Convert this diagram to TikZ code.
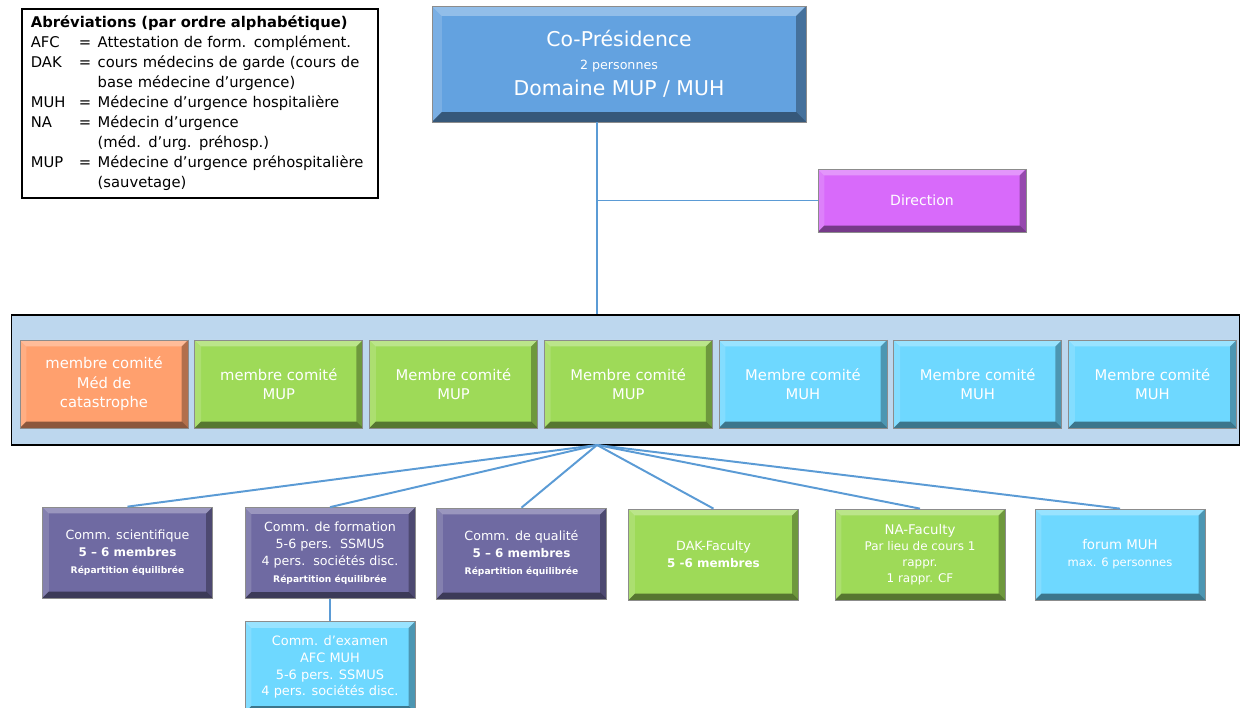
\documentclass[tikz,border=0pt]{standalone}
\usepackage{fontspec}
\setmainfont{DejaVu Sans}
\usetikzlibrary{positioning}
\definecolor{chairblue}{RGB}{99,162,224}
\definecolor{dirviolet}{RGB}{216,106,250}
\definecolor{catorange}{RGB}{255,160,110}
\definecolor{mupgreen}{RGB}{158,218,88}
\definecolor{muhcyan}{RGB}{110,216,255}
\definecolor{commpurple}{RGB}{111,106,162}
\definecolor{panelblue}{RGB}{189,215,238}
\definecolor{linkblue}{RGB}{91,155,213}

\newcommand\abbrline[2]{\makebox[1.2cm][l]{#1}\makebox[0.47cm][l]{=}\mbox{#2}}
\newcommand\abbrcont[1]{\hspace*{1.67cm}\mbox{#1}}
\newcommand\smallnote[1]{{\fontsize{6.5}{8}\selectfont\bfseries #1}}

\begin{document}
\begin{tikzpicture}[
    x=0.025cm, y=-0.025cm,
    node distance=0.15cm,
    every node/.style={align=center},
    bevel/.style={path picture={
        \path (path picture bounding box.north west) coordinate (bnw)
              (path picture bounding box.north east) coordinate (bne)
              (path picture bounding box.south west) coordinate (bsw)
              (path picture bounding box.south east) coordinate (bse);
        \fill[white,opacity=.3] (bnw) -- (bne) -- ([shift={(-#1,-#1)}]bne) -- ([shift={(#1,-#1)}]bnw) -- cycle;
        \fill[white,opacity=.15] (bnw) -- ([shift={(#1,-#1)}]bnw) -- ([shift={(#1,#1)}]bsw) -- (bsw) -- cycle;
        \fill[black,opacity=.3] (bne) -- (bse) -- ([shift={(-#1,#1)}]bse) -- ([shift={(-#1,-#1)}]bne) -- cycle;
        \fill[black,opacity=.45] (bsw) -- (bse) -- ([shift={(-#1,#1)}]bse) -- ([shift={(#1,#1)}]bsw) -- cycle;
    }},
    tile/.style={rectangle, draw=black!45, line width=.5pt, text=white, inner sep=2pt, bevel=#1},
    tile/.default=4.5pt,
    legend/.style={rectangle, draw=black, line width=1.2pt, fill=white, align=left, text width=8.45cm, minimum height=4.725cm, inner xsep=0.225cm, font=\fontsize{10.5}{14.2}\selectfont},
    chair/.style={tile=7pt, fill=chairblue, minimum width=9.35cm, minimum height=2.9cm, font=\fontsize{14.5}{13}\selectfont},
    direction/.style={tile, fill=dirviolet, minimum width=5.2cm, minimum height=1.575cm, font=\fontsize{10}{12}\selectfont},
    panel/.style={rectangle, draw=black, line width=.9pt, fill=panelblue, minimum width=30.675cm, minimum height=3.25cm},
    member/.style={tile, minimum width=4.2cm, minimum height=2.2cm, font=\fontsize{10.5}{13.8}\selectfont},
    commission/.style={tile, minimum width=4.25cm, minimum height=2.275cm, font=\fontsize{9}{12}\selectfont},
    link/.style={draw=linkblue, line width=1.4pt}
]
\useasboundingbox (0,0) rectangle (1243,708);

% Legend
\node[legend, anchor=north west] (abbr) at (21,8) {%
{\bfseries Abréviations (par ordre alphabétique)}\\
\abbrline{AFC}{Attestation de form. complément.}\\
\abbrline{DAK}{cours médecins de garde (cours de}\\
\abbrcont{base médecine d’urgence)}\\
\abbrline{MUH}{Médecine d’urgence hospitalière}\\
\abbrline{NA}{Médecin d’urgence}\\
\abbrcont{(méd. d’urg. préhosp.)}\\
\abbrline{MUP}{Médecine d’urgence préhospitalière}\\
\abbrcont{(sauvetage)}};

% Top
\node[chair] (pres) at (619,64) {Co-Présidence\\[3pt]{\fontsize{9}{11}\selectfont 2 personnes}\\[6pt]Domaine MUP / MUH};
\node[direction] (dir) at (922,200.5) {Direction};

% Committee
\node[panel] (panel) at (625.5,380) {};
\node[member, fill=catorange] (m1) at (104,384) {membre comité\\Méd de\\catastrophe};
\node[member, fill=mupgreen, right=of m1] (m2) {membre comité\\MUP};
\node[member, fill=mupgreen, right=of m2] (m3) {Membre comité\\MUP};
\node[member, fill=mupgreen, right=of m3] (m4) {Membre comité\\MUP};
\node[member, fill=muhcyan, right=of m4] (m5) {Membre comité\\MUH};
\node[member, fill=muhcyan, right=of m5] (m6) {Membre comité\\MUH};
\node[member, fill=muhcyan, right=of m6] (m7) {Membre comité\\MUH};

% Commissions
\node[commission, fill=commpurple] (sci) at (127.5,552.5) {Comm. scientifique\\{\fontsize{8.5}{10}\selectfont\bfseries 5 – 6 membres}\\\smallnote{Répartition équilibrée}};
\node[commission, fill=commpurple] (form) at (330,553) {Comm. de formation\\5-6 pers.\ \ SSMUS\\4 pers.\ \ sociétés disc.\\\smallnote{Répartition équilibrée}};
\node[commission, fill=commpurple] (qual) at (521.5,553.5) {Comm. de qualité\\{\fontsize{8.5}{10}\selectfont\bfseries 5 – 6 membres}\\\smallnote{Répartition équilibrée}};
\node[commission, fill=mupgreen] (dak) at (713.5,554.5) {DAK-Faculty\\{\fontsize{8.5}{10}\selectfont\bfseries 5 -6 membres}};
\node[commission, fill=mupgreen, font=\fontsize{8.5}{11.5}\selectfont] (na) at (920,554.5) {{\fontsize{9.5}{11}\selectfont NA-Faculty}\\Par lieu de cours 1\\rappr.\\1 rappr. CF};
\node[commission, fill=muhcyan, font=\fontsize{8.2}{12}\selectfont] (forum) at (1120,554.5) {{\fontsize{9.5}{11}\selectfont forum MUH}\\max. 6 personnes};
\node[commission, fill=muhcyan, font=\fontsize{9.2}{12}\selectfont] (exam) at (330,667) {Comm. d’examen\\AFC MUH\\5-6 pers. SSMUS\\4 pers. sociétés disc.};

% Connections
\coordinate (hub) at (597,445);
\draw[link] (pres.south -| hub) -- (panel.north -| hub);
\draw[link] (dir.west -| hub) -- (dir.west);
\foreach \c in {sci,form,qual,dak,na,forum}
    \draw[link] (hub) -- (\c.north);
\draw[link] (form) -- (exam);

\end{tikzpicture}
\end{document}
